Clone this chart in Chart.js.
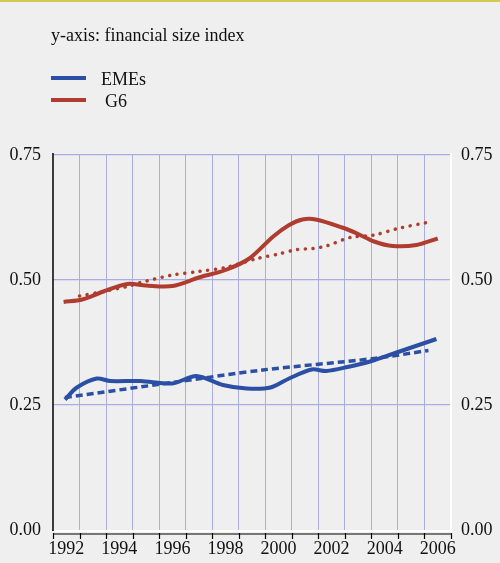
<!DOCTYPE html>
<html>
<head>
<meta charset="utf-8">
<script src="https://cdn.jsdelivr.net/npm/chart.js@4/dist/chart.umd.min.js"></script>
<style>
  html, body { margin: 0; padding: 0; background: #efefef; }
  #wrap { width: 500px; height: 563px; position: relative; }
</style>
</head>
<body>
<div id="wrap"><canvas id="c" width="500" height="563"></canvas></div>
<script>
// ---- data ----
const yearLabels = [1992, 1994, 1996, 1998, 2000, 2002, 2004, 2006];
const yTicks = [0, 0.25, 0.5, 0.75];

const g6Years   = [1991.9, 1992.6, 1993.4, 1994.3, 1995.0, 1996.0, 1997.0, 1998.0, 1998.9, 1999.8, 2000.4, 2000.9, 2001.4, 2002.4, 2003.0, 2003.6, 2004.3, 2005.2, 2006.0];
const g6Values  = [0.456, 0.461, 0.477, 0.492, 0.489, 0.488, 0.505, 0.520, 0.543, 0.587, 0.610, 0.621, 0.621, 0.605, 0.592, 0.577, 0.568, 0.570, 0.583];

const g6TrendYears  = [1992.5, 1993.3, 1994.3, 1994.8, 1996.0, 1997.0, 1998.0, 1999.2, 2000.0, 2000.7, 2001.3, 2001.8, 2002.7, 2003.6, 2004.5, 2005.6];
const g6TrendValues = [0.468, 0.476, 0.487, 0.495, 0.510, 0.517, 0.525, 0.543, 0.552, 0.561, 0.563, 0.568, 0.585, 0.590, 0.603, 0.615];

const emeYears  = [1991.95, 1992.4, 1993.15, 1993.65, 1994.8, 1996.0, 1996.9, 1997.9, 1998.8, 1999.7, 2000.4, 2001.25, 2001.8, 2002.6, 2003.45, 2004.45, 2005.95];
const emeValues = [0.261, 0.285, 0.303, 0.298, 0.298, 0.293, 0.308, 0.290, 0.283, 0.285, 0.303, 0.321, 0.318, 0.326, 0.337, 0.355, 0.382];

const emeTrendYears  = [1991.95, 1996.0, 1999.4, 2003.6, 2005.65];
const emeTrendValues = [0.265, 0.295, 0.320, 0.343, 0.359];

const titleText = 'y-axis: financial size index';
const legendNames = ['EMEs', 'G6'];

// ---- styling ----
const BLUE = '#2c4fa6';
const RED = '#b03b2f';
const GRID = '#a9ade4';
const FONT = '"Liberation Serif", "Times New Roman", serif';

const toPts = (xs, ys) => xs.map((x, i) => ({ x: x, y: ys[i] }));

const boundaries = [];
for (let y = 1991.5; y <= 2006.5; y += 1) boundaries.push(y);

const decor = {
  id: 'decor',
  beforeDraw(chart) {
    const ctx = chart.ctx;
    ctx.save();
    ctx.fillStyle = '#efefef';
    ctx.fillRect(0, 0, chart.width, chart.height);
    ctx.fillStyle = '#d4c94c';
    ctx.fillRect(0, 0, chart.width, 2);
    ctx.fillStyle = '#111';
    ctx.font = '18px ' + FONT;
    ctx.textBaseline = 'alphabetic';
    ctx.fillText(titleText, 51, 41);
    ctx.lineWidth = 4;
    ctx.strokeStyle = BLUE;
    ctx.beginPath(); ctx.moveTo(51, 78); ctx.lineTo(86, 78); ctx.stroke();
    ctx.strokeStyle = RED;
    ctx.beginPath(); ctx.moveTo(51, 100); ctx.lineTo(86, 100); ctx.stroke();
    ctx.fillStyle = '#111';
    ctx.fillText(legendNames[0], 101, 85);
    ctx.fillText(legendNames[1], 105, 107);
    ctx.restore();
  },
  afterDatasetsDraw(chart) {
    const ctx = chart.ctx;
    const a = chart.chartArea;
    const xs = chart.scales.x;
    ctx.save();
    ctx.strokeStyle = '#ffffff';
    ctx.lineWidth = 2;
    ctx.beginPath(); ctx.moveTo(a.right, a.top - 2); ctx.lineTo(a.right, a.bottom + 2); ctx.stroke();
    ctx.beginPath(); ctx.moveTo(a.left, a.bottom + 1); ctx.lineTo(a.right, a.bottom + 1); ctx.stroke();
    ctx.strokeStyle = '#000';
    ctx.lineWidth = 1.5;
    ctx.beginPath(); ctx.moveTo(a.left, a.top - 2); ctx.lineTo(a.left, a.bottom + 1); ctx.stroke();
    ctx.lineWidth = 1.2;
    ctx.beginPath(); ctx.moveTo(a.left, a.bottom + 4); ctx.lineTo(a.right, a.bottom + 4); ctx.stroke();
    boundaries.forEach(b => {
      const px = Math.round(xs.getPixelForValue(b)) + 0.5;
      ctx.beginPath(); ctx.moveTo(px, a.bottom + 3); ctx.lineTo(px, a.bottom + 9); ctx.stroke();
    });
    ctx.restore();
  }
};

new Chart(document.getElementById('c'), {
  type: 'line',
  data: {
    datasets: [
      { label: 'G6 trend', data: toPts(g6TrendYears, g6TrendValues), borderColor: RED, borderWidth: 3.5,
        borderDash: [0.1, 7.6], borderCapStyle: 'round', pointRadius: 0, tension: 0.3, fill: false },
      { label: 'G6', data: toPts(g6Years, g6Values), borderColor: RED, borderWidth: 4,
        pointRadius: 0, tension: 0.3, fill: false, borderJoinStyle: 'round' },
      { label: 'EMEs trend', data: toPts(emeTrendYears, emeTrendValues), borderColor: BLUE, borderWidth: 3.5,
        borderDash: [7, 4], pointRadius: 0, tension: 0.3, fill: false },
      { label: 'EMEs', data: toPts(emeYears, emeValues), borderColor: BLUE, borderWidth: 4,
        pointRadius: 0, tension: 0.3, fill: false, borderJoinStyle: 'round' }
    ]
  },
  plugins: [decor],
  options: {
    responsive: false,
    animation: false,
    devicePixelRatio: 1,
    layout: { padding: { top: 155, left: 0, right: 0, bottom: 0 } },
    plugins: { legend: { display: false }, tooltip: { enabled: false } },
    scales: {
      x: {
        type: 'linear', min: 1991.5, max: 2006.5,
        afterBuildTicks(scale) {
          const t = boundaries.map(v => ({ value: v }));
          yearLabels.forEach(v => t.push({ value: v }));
          t.sort((p, q) => p.value - q.value);
          scale.ticks = t;
        },
        afterFit(scale) { scale.height = 33; },
        border: { display: false },
        grid: {
          drawTicks: false,
          lineWidth: 1,
          color: (c) => {
            const v = c.tick ? c.tick.value : 0;
            if (v === 1991.5 || v === 2006.5) return 'rgba(0,0,0,0)';
            return (Math.abs(v % 1) > 0.25) ? GRID : 'rgba(0,0,0,0)';
          }
        },
        ticks: {
          autoSkip: false, maxRotation: 0, padding: 8,
          color: '#111', font: { family: FONT, size: 18 },
          callback: (v) => yearLabels.includes(v) ? String(v) : ''
        }
      },
      y: {
        position: 'left', min: 0, max: 0.75,
        afterBuildTicks(scale) { scale.ticks = yTicks.map(v => ({ value: v })); },
        afterFit(scale) { scale.width = 53; },
        border: { display: false },
        grid: {
          drawTicks: false, lineWidth: 1.2,
          color: (c) => (c.tick && c.tick.value > 0) ? GRID : 'rgba(0,0,0,0)'
        },
        ticks: { padding: 12, color: '#111', font: { family: FONT, size: 18 },
          callback: (v) => Number(v).toFixed(2) }
      },
      y2: {
        position: 'right', min: 0, max: 0.75,
        afterBuildTicks(scale) { scale.ticks = yTicks.map(v => ({ value: v })); },
        afterFit(scale) { scale.width = 49; },
        border: { display: false },
        grid: { display: false, drawTicks: false },
        ticks: { padding: 10, color: '#111', font: { family: FONT, size: 18 },
          callback: (v) => Number(v).toFixed(2) }
      }
    }
  }
});
</script>
</body>
</html>
